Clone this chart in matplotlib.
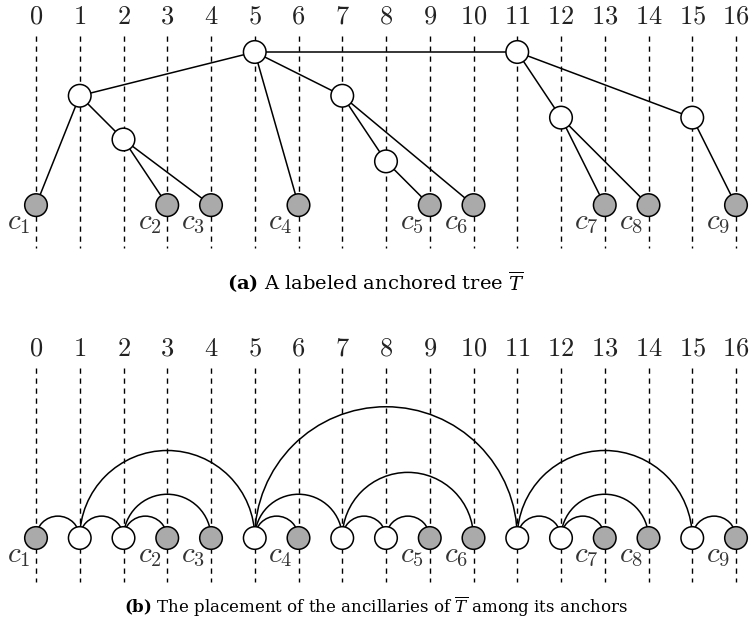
import matplotlib.pyplot as plt
from matplotlib.patches import Circle, Arc

# anchors 0..16
columns = list(range(17))

# leaves (anchors carrying a label) and their columns
leaf_labels = ["c_1", "c_2", "c_3", "c_4", "c_5", "c_6", "c_7", "c_8", "c_9"]
leaf_cols = [0, 3, 4, 6, 9, 10, 13, 14, 16]

# ancillary nodes: column and depth in the tree drawing (a)
inner_cols = [5, 11, 1, 7, 12, 15, 2, 8]
inner_depth = [0, 0, 1, 1, 1.5, 1.5, 2, 2.5]
leaf_depth = 3.5

# tree edges (parent column, child column)
edges = [(5, 1), (5, 7), (5, 6), (5, 11),
         (1, 0), (1, 2), (2, 3), (2, 4),
         (7, 8), (7, 10), (8, 9),
         (11, 12), (11, 15), (12, 13), (12, 14), (15, 16)]

plt.rcParams['mathtext.fontset'] = 'custom'
plt.rcParams['mathtext.rm'] = 'DejaVu Serif'
plt.rcParams['mathtext.it'] = 'DejaVu Serif:italic'
plt.rcParams['mathtext.bf'] = 'DejaVu Serif:bold'

U = 43.75          # pixels per column


def py(p):
    # pixel row -> data y
    return -p / U


R = 11.3 / U
GREY = '#aaaaaa'

fig = plt.figure(figsize=(7.52, 6.31), dpi=100)
ax = fig.add_axes([0, 0, 1, 1])
ax.set_xlim(-36 / U, (752 - 36) / U)
ax.set_ylim(-631 / U, 0)
ax.set_aspect('equal')
ax.axis('off')

depth = dict(zip(inner_cols, inner_depth))
for c in leaf_cols:
    depth[c] = leaf_depth


def node(x, y, leaf):
    ax.add_patch(Circle((x, y), R, fc=GREY if leaf else 'white',
                        ec='black', lw=1.1, zorder=3))


def grid(top_num, dash_top, dash_bot):
    for c in columns:
        ax.text(c, py(top_num), f"${c}$", ha='center', va='center',
                fontsize=19, math_fontfamily='cm', color='#222222')
        ax.plot([c, c], [py(dash_top), py(dash_bot)], color='black',
                lw=1.0, ls=(0, (3.8, 3.4)), zorder=1)


def labels(row):
    for lab, c in zip(leaf_labels, leaf_cols):
        ax.text(c - 6 / U, py(row + 24), f"${lab}$", ha='right',
                va='baseline', fontsize=21, math_fontfamily='cm',
                color='#333333')


# (a) labeled anchored tree
ROOT_A = 52
grid(17, 36, 248)
for p, ch in edges:
    ax.plot([p, ch], [py(ROOT_A) - depth[p], py(ROOT_A) - depth[ch]],
            color='black', lw=1.1, zorder=2)
for c in inner_cols:
    node(c, py(ROOT_A) - depth[c], False)
for c in leaf_cols:
    node(c, py(ROOT_A) - depth[c], True)
labels(ROOT_A + leaf_depth * U)
ax.text(376 / U - 36 / U, py(282),
        r"$\mathbf{(a)}$ A labeled anchored tree $\overline{T}$",
        ha='center', va='center', fontsize=14, family='DejaVu Serif')

# (b) ancillaries placed among the anchors
ROW_B = 538
grid(349, 368, 582)
for p, ch in edges:
    a, b = sorted((p, ch))
    ax.add_patch(Arc(((a + b) / 2, py(ROW_B)), b - a, b - a,
                     theta1=0, theta2=180, color='black', lw=1.1,
                     zorder=2))
for c in inner_cols:
    node(c, py(ROW_B), False)
for c in leaf_cols:
    node(c, py(ROW_B), True)
labels(ROW_B)
ax.text(376 / U - 36 / U, py(607),
        r"$\mathbf{(b)}$ The placement of the ancillaries of "
        r"$\overline{T}$ among its anchors",
        ha='center', va='center', fontsize=12, family='DejaVu Serif')

fig.savefig('out.png', dpi=100)
